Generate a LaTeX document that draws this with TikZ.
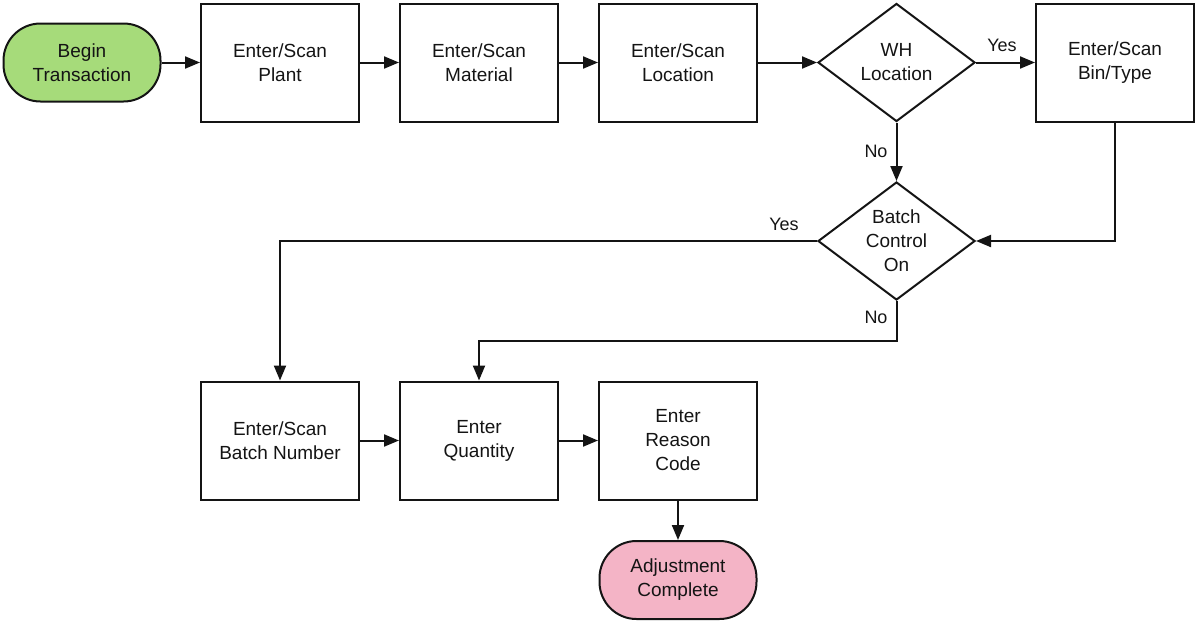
\documentclass[tikz,border=0pt]{standalone}
\usepackage{fontspec}
\setmainfont{Liberation Sans}
\usetikzlibrary{shapes.geometric,arrows.meta}
\definecolor{startgreen}{RGB}{166,219,122}
\definecolor{endpink}{RGB}{244,180,198}
\definecolor{ink}{RGB}{20,20,20}
\begin{document}
\begin{tikzpicture}[x=1pt,y=-1pt,
 every node/.style={font=\fontsize{19}{24}\selectfont, align=center, text=ink},
 box/.style={draw=ink, line width=2pt, minimum width=158pt, minimum height=118pt, inner sep=0pt},
 term/.style={draw=ink, line width=2pt, rounded corners=37pt, minimum width=157pt, minimum height=78pt, inner sep=0pt},
 dec/.style={draw=ink, diamond, line width=2pt, minimum width=157pt, minimum height=118pt, inner sep=0pt, shape aspect=1.33},
 conn/.style={draw=ink, line width=2pt, -{Triangle[length=15pt,width=12pt]}},
 lbl/.style={font=\fontsize{18}{22}\selectfont, inner sep=0pt}]
\useasboundingbox (0,0) rectangle (1195,622);

\node[term, fill=startgreen] (begin) at (82,62.5) {Begin\\Transaction};
\node[box] (plant) at (280,62.5) {Enter/Scan\\Plant};
\node[box] (mat) at (479,62.5) {Enter/Scan\\Material};
\node[box] (loc) at (678,62.5) {Enter/Scan\\Location};
\node[dec] (wh) at (896.5,62.5) {WH\\Location};
\node[box] (bin) at (1115,62.5) {Enter/Scan\\Bin/Type};
\node[dec] (batch) at (896.5,241) {Batch\\Control\\On};
\node[box] (bnum) at (280,440.5) {Enter/Scan\\Batch Number};
\node[box] (qty) at (479,440.5) {Enter\\Quantity};
\node[box] (reason) at (678,440.5) {Enter\\Reason\\Code};
\node[term, fill=endpink] (adj) at (678,580) {Adjustment\\Complete};

\coordinate (c1) at (1115,241);
\coordinate (c2) at (280,241);
\coordinate (c3) at (896.5,341);
\coordinate (c4) at (479,341);

\draw[conn] (begin.east) -- (plant.west);
\draw[conn] (plant.east) -- (mat.west);
\draw[conn] (mat.east) -- (loc.west);
\draw[conn] (loc.east) -- (wh.west);
\draw[conn] (wh.east) -- (bin.west);
\draw[conn] (wh.south) -- (batch.north);
\draw[conn] (bin.south) -- (c1) -- (batch.east);
\draw[conn] (batch.west) -- (c2) -- (bnum.north);
\draw[conn] (batch.south) -- (c3) -- (c4) -- (qty.north);
\draw[conn] (bnum.east) -- (qty.west);
\draw[conn] (qty.east) -- (reason.west);
\draw[conn] (reason.south) -- (adj.north);

\node[lbl] (yes1) at (1002,45) {Yes};
\node[lbl] (no1) at (876,151) {No};
\node[lbl] (yes2) at (784,224) {Yes};
\node[lbl] (no2) at (876,317) {No};
\end{tikzpicture}
\end{document}
